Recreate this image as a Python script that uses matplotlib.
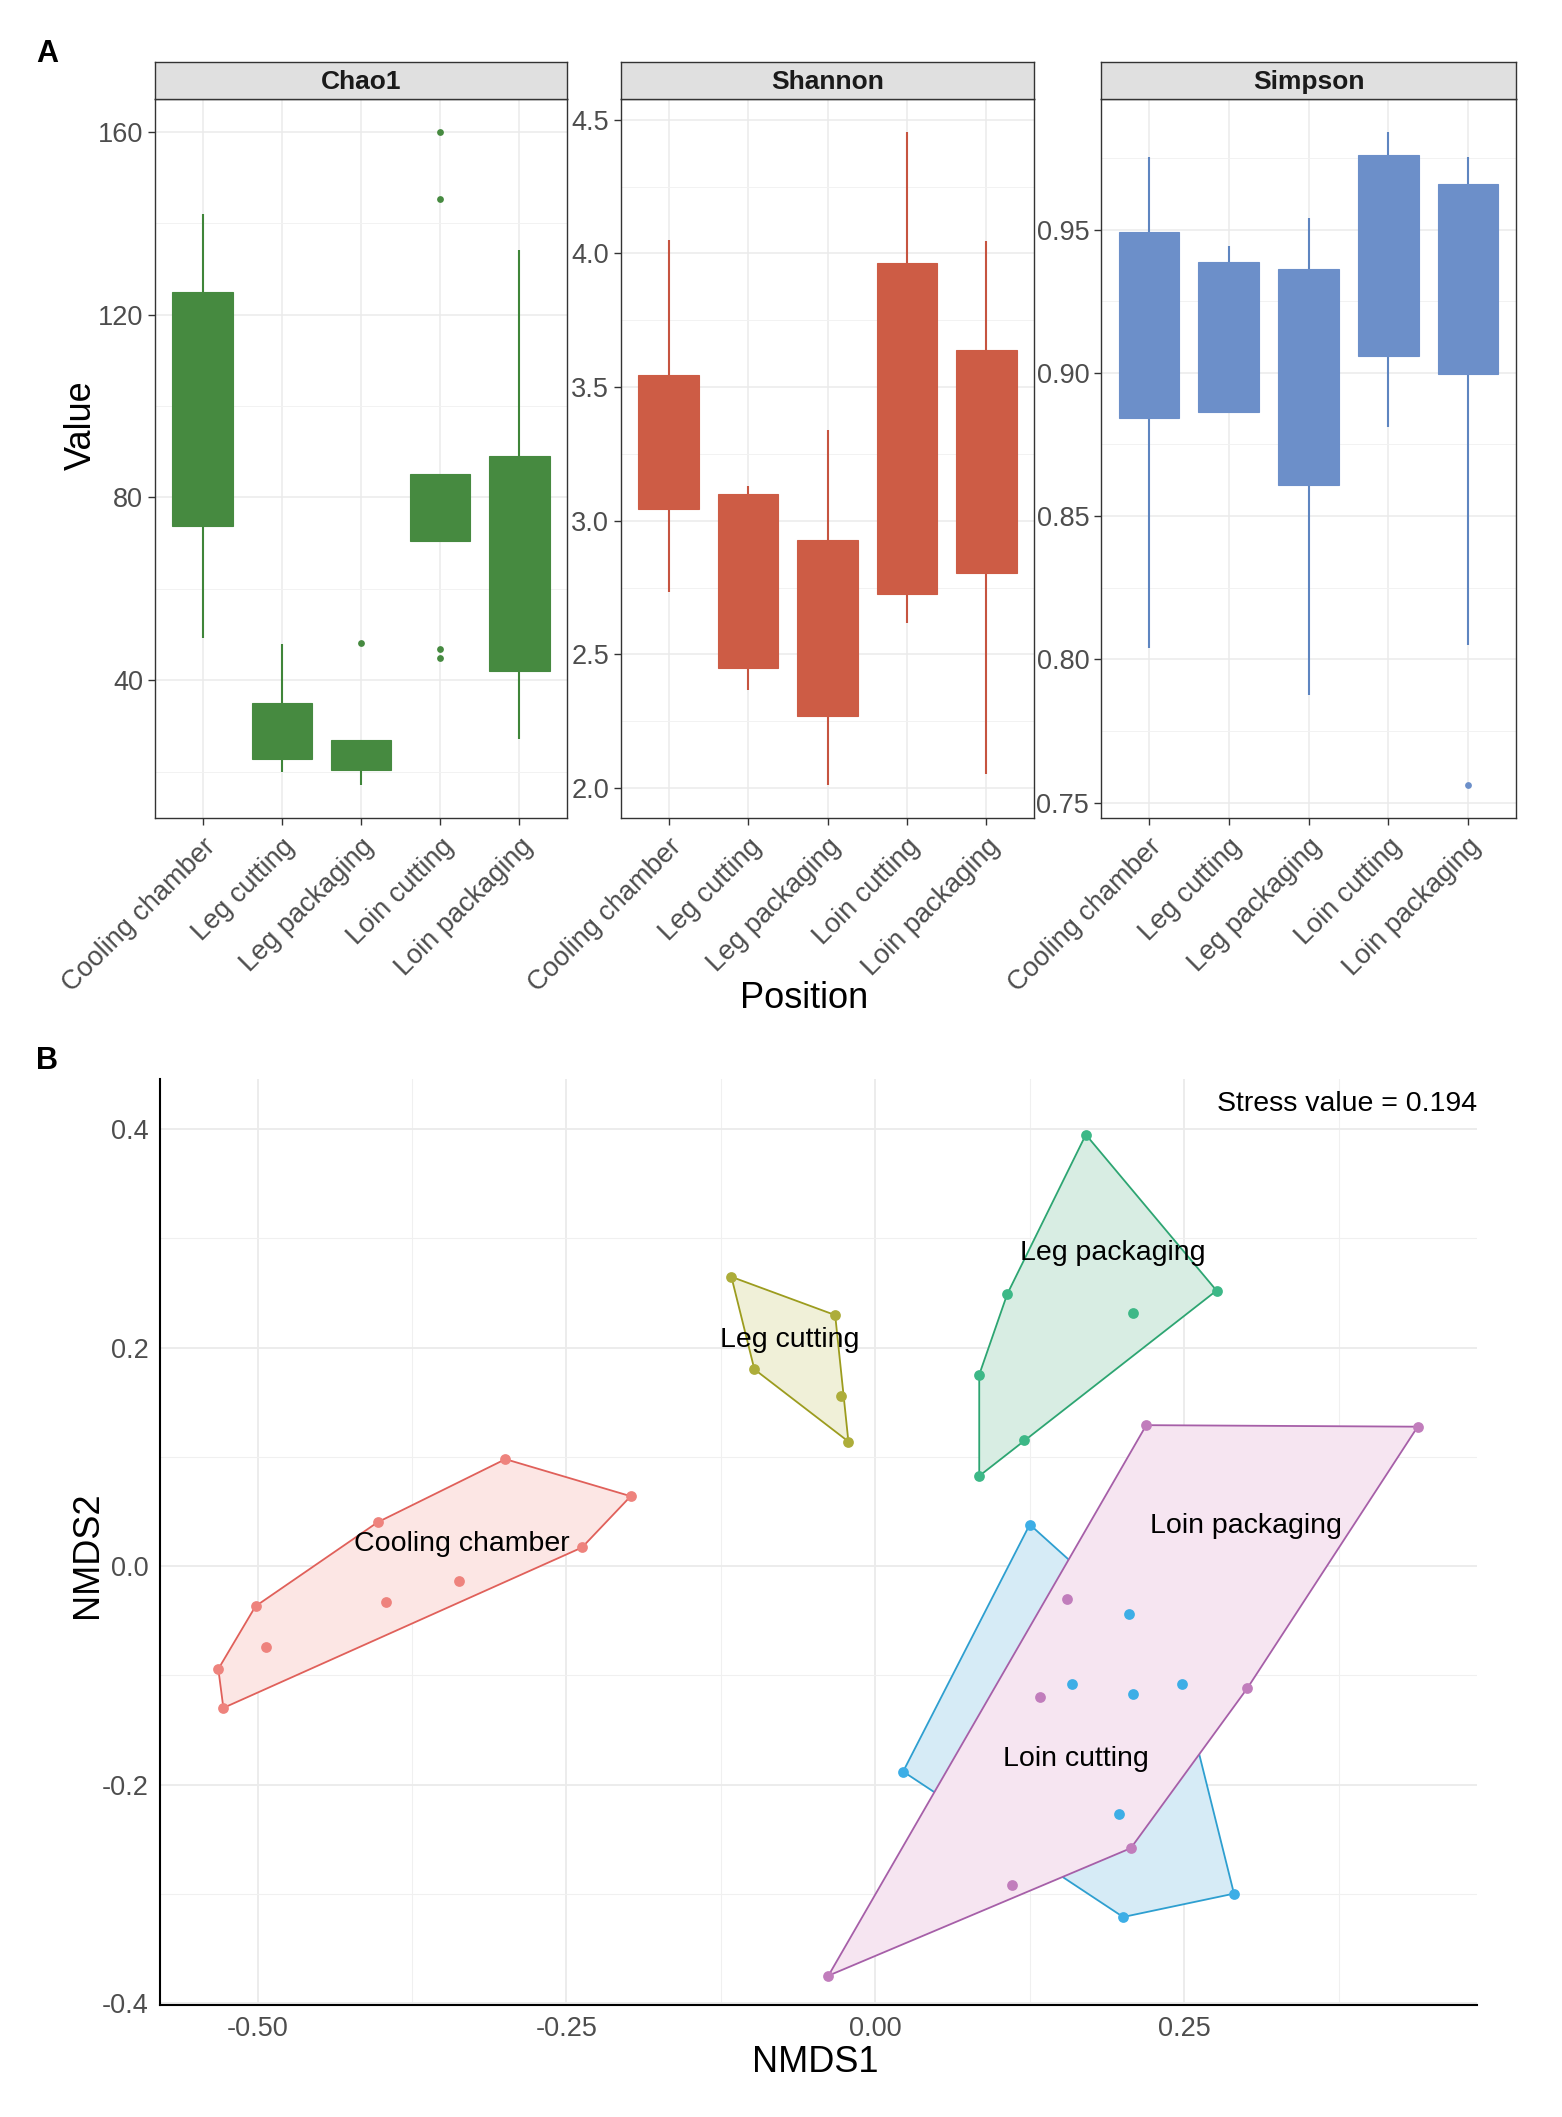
import matplotlib
matplotlib.use("Agg")
import matplotlib.pyplot as plt
import numpy as np
from matplotlib.ticker import FixedLocator, MultipleLocator, FormatStrFormatter

plt.rcParams['font.family'] = ['Liberation Sans', 'DejaVu Sans']

# ---------------- data: panel A ----------------
categories = ["Cooling chamber", "Leg cutting", "Leg packaging", "Loin cutting", "Loin packaging"]

chao1_low = [49.2, 20.0, 17.0, 70.4, 27.1]
chao1_q1 = [73.7, 22.8, 20.3, 70.4, 42.1]
chao1_q3 = [124.9, 35.0, 26.9, 85.1, 89.1]
chao1_high = [142.0, 47.9, 26.9, 85.1, 134.1]
chao1_out_cat = [2, 3, 3, 3, 3]
chao1_out_val = [48.2, 160.0, 145.2, 46.9, 44.8]

shannon_low = [2.734, 2.366, 2.010, 2.619, 2.053]
shannon_q1 = [3.044, 2.449, 2.271, 2.726, 2.805]
shannon_q3 = [3.545, 3.102, 2.928, 3.964, 3.640]
shannon_high = [4.051, 3.129, 3.341, 4.456, 4.047]
shannon_out_cat = []
shannon_out_val = []

simpson_low = [0.8038, 0.8864, 0.7877, 0.8811, 0.8051]
simpson_q1 = [0.8843, 0.8864, 0.8609, 0.9060, 0.8996]
simpson_q3 = [0.9491, 0.9387, 0.9362, 0.9760, 0.9658]
simpson_high = [0.9753, 0.9442, 0.9542, 0.9842, 0.9753]
simpson_out_cat = [4]
simpson_out_val = [0.756]

metric_names = ["Chao1", "Shannon", "Simpson"]
chao1_ticks = [40, 80, 120, 160]
shannon_ticks = [2.0, 2.5, 3.0, 3.5, 4.0, 4.5]
simpson_ticks = [0.75, 0.80, 0.85, 0.90, 0.95]

# ---------------- data: panel B (NMDS) ----------------
groups = ["Cooling chamber", "Leg cutting", "Leg packaging", "Loin cutting", "Loin packaging"]
cooling_x = [-0.2994, -0.198, -0.2374, -0.4028, -0.3366, -0.3962, -0.5017, -0.4934, -0.5318, -0.5277]
cooling_y = [0.0979, 0.064, 0.0171, 0.0402, -0.0138, -0.0328, -0.0367, -0.0737, -0.0941, -0.1297]
legcut_x = [-0.1165, -0.0325, -0.0979, -0.028, -0.0218]
legcut_y = [0.2647, 0.2297, 0.1801, 0.1556, 0.114]
legpack_x = [0.1704, 0.2762, 0.2086, 0.1068, 0.0841, 0.1205, 0.0841]
legpack_y = [0.3948, 0.2521, 0.2318, 0.249, 0.1752, 0.1154, 0.0825]
loincut_x = [0.125, 0.2052, 0.1591, 0.2088, 0.2479, 0.0225, 0.1975, 0.2903, 0.2006]
loincut_y = [0.0381, -0.0436, -0.1074, -0.1167, -0.1074, -0.1879, -0.2265, -0.2996, -0.321]
loinpack_x = [0.2193, 0.439, 0.1552, 0.1331, 0.3011, 0.2068, 0.1104, -0.038]
loinpack_y = [0.129, 0.1276, -0.030, -0.1195, -0.1117, -0.258, -0.2918, -0.3747]
label_x = [-0.335, -0.069, 0.192, 0.162, 0.2996]
label_y = [0.020, 0.207, 0.2867, -0.176, 0.037]
stress_text = "Stress value = 0.194"
nmds1_ticks = [-0.50, -0.25, 0.00, 0.25]
nmds2_ticks = [-0.4, -0.2, 0.0, 0.2, 0.4]

# ---------------- styling ----------------
W, H = 1562, 2117
fig = plt.figure(figsize=(W / 100, H / 100), dpi=100)

def px_axes(l, t, r, b):
    return fig.add_axes([l / W, 1 - b / H, (r - l) / W, (b - t) / H])

box_colors = ["#468A40", "#CD5C45", "#6C8FC9"]
whisk_colors = ["#3F8539", "#C65440", "#5E85C0"]
tick_gray = "#4D4D4D"
grid_col = "#EBEBEB"

panelA = [
    (155, 567, chao1_low, chao1_q1, chao1_q3, chao1_high, chao1_out_cat, chao1_out_val,
     chao1_ticks, (9.85, 167.15), "%g"),
    (621, 1034, shannon_low, shannon_q1, shannon_q3, shannon_high, shannon_out_cat, shannon_out_val,
     shannon_ticks, (1.888, 4.578), "%.1f"),
    (1101, 1516, simpson_low, simpson_q1, simpson_q3, simpson_high, simpson_out_cat, simpson_out_val,
     simpson_ticks, (0.7446, 0.9956), "%.2f"),
]

xpos = np.arange(1, len(categories) + 1)
top_px, bot_px, strip_top = 99, 818, 62
for i, (l, r, lo, q1, q3, hi, oc, ov, ticks, ylim, fmt) in enumerate(panelA):
    ax = px_axes(l, top_px, r, bot_px)
    ax.set_xlim(0.4, len(categories) + 0.6)
    ax.set_ylim(*ylim)
    ax.set_axisbelow(True)
    ax.yaxis.set_major_locator(FixedLocator(ticks))
    step = ticks[1] - ticks[0]
    ax.yaxis.set_minor_locator(MultipleLocator(step / 2))
    ax.yaxis.set_major_formatter(FormatStrFormatter(fmt))
    ax.set_xticks(xpos)
    ax.set_xticklabels(categories, rotation=45, ha='right', va='top',
                       rotation_mode='anchor', fontsize=20.5, color=tick_gray)
    ax.grid(True, which='major', color=grid_col, lw=1.1)
    ax.grid(True, which='minor', axis='y', color="#F2F2F2", lw=0.7)
    ax.tick_params(axis='y', which='minor', length=0)
    ax.tick_params(axis='both', which='major', length=5, width=1, color="#333333",
                   labelsize=19.5, labelcolor=tick_gray)
    ax.tick_params(axis='x', pad=6)
    for s in ax.spines.values():
        s.set_color("#333333")
        s.set_linewidth(1.0)
    ax.vlines(xpos, lo, q1, color=whisk_colors[i], lw=1.5, zorder=2)
    ax.vlines(xpos, q3, hi, color=whisk_colors[i], lw=1.5, zorder=2)
    ax.bar(xpos, np.array(q3) - np.array(q1), bottom=q1, width=0.76,
           color=box_colors[i], edgecolor=box_colors[i], lw=0.8, zorder=3)
    if len(ov):
        ax.scatter(np.array(oc) + 1, ov, s=24, color=box_colors[i], zorder=4, lw=0)
    sax = px_axes(l, strip_top, r, top_px)
    sax.set_facecolor("#E0E0E0")
    sax.set_xticks([]); sax.set_yticks([])
    for s in sax.spines.values():
        s.set_color("#333333")
        s.set_linewidth(1.0)
    sax.text(0.5, 0.45, metric_names[i], transform=sax.transAxes, ha='center', va='center',
             fontsize=19, fontweight='bold', color="#1A1A1A")

fig.text(47 / W, 1 - 54 / H, "A", fontsize=22, fontweight='bold', ha='center', va='center')
fig.text(81 / W, 1 - 425 / H, "Value", fontsize=26, rotation=90, ha='center', va='center')
fig.text(804 / W, 1 - 998 / H, "Position", fontsize=26, ha='center', va='center')

# ---------------- panel B ----------------
fig.text(47 / W, 1 - 1061 / H, "B", fontsize=22, fontweight='bold', ha='center', va='center')
bx = px_axes(160, 1079, 1477, 2005)
bx.set_xlim(-0.579, 0.487)
bx.set_ylim(-0.4015, 0.4457)
bx.set_axisbelow(True)
bx.xaxis.set_major_locator(FixedLocator(nmds1_ticks))
bx.yaxis.set_major_locator(FixedLocator(nmds2_ticks))
bx.xaxis.set_minor_locator(FixedLocator([-0.375, -0.125, 0.125, 0.375]))
bx.yaxis.set_minor_locator(FixedLocator([-0.3, -0.1, 0.1, 0.3]))
bx.xaxis.set_major_formatter(FormatStrFormatter("%.2f"))
bx.yaxis.set_major_formatter(FormatStrFormatter("%.1f"))
bx.grid(True, which='major', color=grid_col, lw=1.3)
bx.grid(True, which='minor', color="#F0F0F0", lw=0.8)
bx.tick_params(which='minor', length=0)
bx.tick_params(which='major', length=0, labelsize=19.5, labelcolor=tick_gray, pad=8)
for s in ["top", "right"]:
    bx.spines[s].set_visible(False)
for s in ["left", "bottom"]:
    bx.spines[s].set_color("black")
    bx.spines[s].set_linewidth(1.5)

xs_all = [cooling_x, legcut_x, legpack_x, loincut_x, loinpack_x]
ys_all = [cooling_y, legcut_y, legpack_y, loincut_y, loinpack_y]
line_cols = ["#E0605A", "#9C9C1E", "#2DA572", "#2E9FD0", "#A65FA8"]
pt_cols = ["#EE837D", "#ADAD3A", "#3DB887", "#3DAEE6", "#C17DBC"]
fill_cols = ["#FCE6E4", "#F0F0D8", "#D8EDE3", "#D6EBF6", "#F6E5F1"]

def hull(xs, ys):
    pts = sorted(set(zip(xs, ys)))
    def cross(o, a, b):
        return (a[0] - o[0]) * (b[1] - o[1]) - (a[1] - o[1]) * (b[0] - o[0])
    lower, upper = [], []
    for p in pts:
        while len(lower) >= 2 and cross(lower[-2], lower[-1], p) <= 0:
            lower.pop()
        lower.append(p)
    for p in reversed(pts):
        while len(upper) >= 2 and cross(upper[-2], upper[-1], p) <= 0:
            upper.pop()
        upper.append(p)
    return np.array(lower[:-1] + upper[:-1])

for k in range(len(groups)):
    hp = hull(xs_all[k], ys_all[k])
    bx.fill(hp[:, 0], hp[:, 1], facecolor=fill_cols[k], edgecolor=line_cols[k],
            lw=1.3, zorder=2 + k * 0.1)
for k in range(len(groups)):
    bx.scatter(xs_all[k], ys_all[k], s=60, color=pt_cols[k], lw=0, zorder=5)
    bx.text(label_x[k], label_y[k], groups[k], fontsize=20.5, ha='center', va='center',
            color='black', zorder=6)
bx.text(0.4867, 0.4227, stress_text, fontsize=20.5, ha='right', va='center', color='black')

fig.text(87 / W, 1 - 1555 / H, "NMDS2", fontsize=26, rotation=90, ha='center', va='center')
fig.text(815 / W, 1 - 2063 / H, "NMDS1", fontsize=26, ha='center', va='center')

fig.savefig("out.png", dpi=100)
